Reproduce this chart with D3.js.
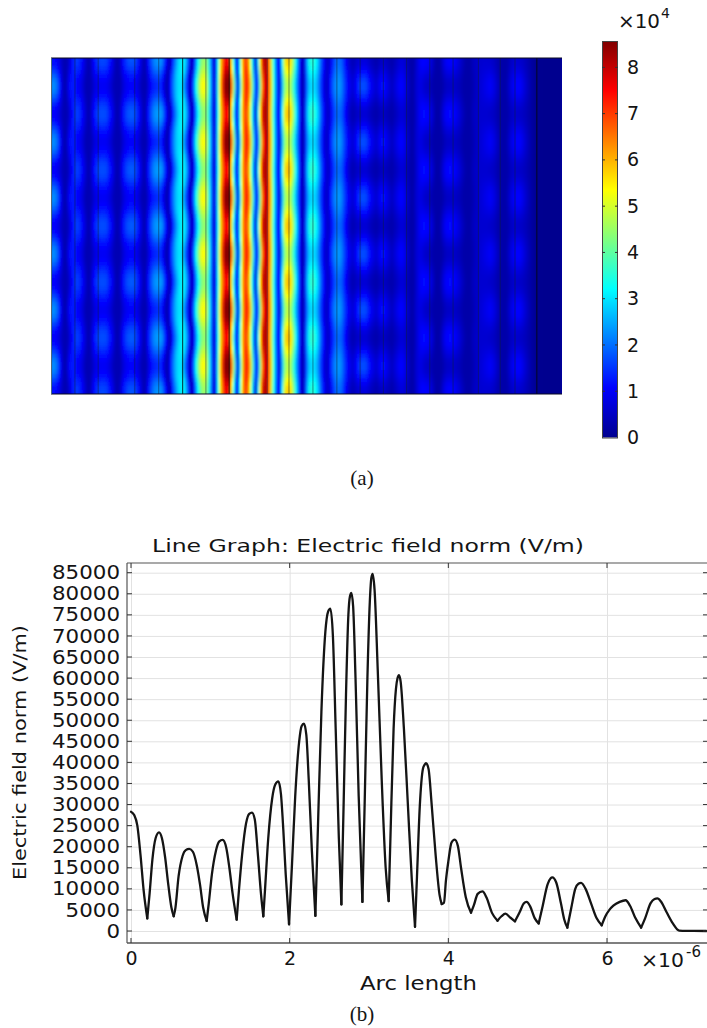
<!DOCTYPE html>
<html>
<head>
<meta charset="utf-8">
<script src="https://cdn.jsdelivr.net/npm/d3@7"></script>
<style>
  html, body { margin: 0; padding: 0; background: #fff; }
  svg { display: block; }
  text { font-family: "DejaVu Sans", sans-serif; fill: #141414; }
  .caption { font-family: "Liberation Serif", serif; font-size: 21px; }
</style>
</head>
<body>
<div id="chart"></div>
<script>
// Arc length (x 1e-6) and field norm, one arc per line
const arcLength = [
  0, 0.04, 0.08, 0.12, 0.16, 0.205,
  0.235, 0.27, 0.31, 0.353, 0.39, 0.43, 0.47, 0.51, 0.538,
  0.56, 0.6, 0.65, 0.69, 0.735, 0.78, 0.83, 0.87, 0.91, 0.954,
  0.98, 1.02, 1.07, 1.11, 1.156, 1.2, 1.24, 1.28, 1.332,
  1.36, 1.4, 1.45, 1.49, 1.525, 1.56, 1.6, 1.64, 1.668,
  1.69, 1.73, 1.78, 1.82, 1.857, 1.89, 1.92, 1.95, 1.992,
  2.03, 2.07, 2.12, 2.15, 2.18, 2.21, 2.24, 2.28, 2.324,
  2.36, 2.4, 2.45, 2.485, 2.513, 2.545, 2.58, 2.62, 2.652,
  2.68, 2.71, 2.74, 2.76, 2.778, 2.8, 2.83, 2.87, 2.917,
  2.945, 2.98, 3.01, 3.03, 3.046, 3.07, 3.11, 3.16, 3.21, 3.248,
  3.27, 3.31, 3.34, 3.36, 3.378, 3.4, 3.44, 3.49, 3.54, 3.58,
  3.605, 3.64, 3.68, 3.7, 3.718, 3.75, 3.79, 3.84, 3.89, 3.916, 3.945,
  3.97, 4.0, 4.04, 4.08, 4.12, 4.16, 4.22, 4.286,
  4.32, 4.37, 4.43, 4.48, 4.55, 4.62,
  4.67, 4.72, 4.78, 4.84, 4.9, 4.95, 4.987, 5.03, 5.09, 5.139,
  5.19, 5.25, 5.29, 5.31, 5.36, 5.42, 5.46, 5.5,
  5.55, 5.6, 5.64, 5.673, 5.73, 5.8, 5.87, 5.933,
  5.98, 6.03, 6.08, 6.16, 6.235, 6.29, 6.36, 6.43,
  6.48, 6.55, 6.6, 6.635, 6.68, 6.75, 6.83, 6.91, 7.0, 7.25
];
const fieldNorm = [
  28300, 27500, 25000, 18000, 9500, 3000,
  9000, 17000, 22000, 23400, 22000, 17500, 11000, 5500, 3500,
  5500, 13000, 17800, 19200, 19500, 18800, 15500, 11000, 5500, 2400,
  6500, 13500, 19000, 21200, 21600, 19800, 15000, 9000, 2700,
  9500, 18000, 25500, 27800, 28100, 26500, 18000, 8500, 3500,
  10000, 22000, 31500, 34800, 35500, 32500, 24000, 13500, 1600,
  16000, 32000, 45000, 48600, 49200, 46500, 36000, 19000, 3600,
  27000, 52000, 71000, 75800, 76500, 70000, 48000, 22000, 6300,
  30000, 56000, 75000, 79400, 80200, 77000, 60000, 32000, 6900,
  30000, 60000, 78000, 83800, 84700, 81000, 62000, 36000, 15000, 7100,
  22000, 48000, 57500, 60000, 60700, 59000, 48000, 30000, 12000, 1000,
  13000, 29500, 38500, 39400, 39800, 38500, 30000, 18000, 8500, 6400, 6700,
  12000, 16500, 21000, 21700, 20200, 15000, 8000, 4350,
  6000, 8800, 9400, 8000, 4300, 2450,
  3500, 4100, 3200, 2300, 4500, 6500, 6900, 5900, 3000, 1800,
  6000, 11000, 12500, 12700, 11500, 6500, 2800, 800,
  5500, 10000, 11200, 11400, 10000, 6500, 3000, 1350,
  3500, 5000, 6000, 6900, 7300, 6000, 3000, 800,
  3000, 6600, 7600, 7750, 7000, 4500, 1800, 100, 30, 0
];

const fieldTicks = [0, 5000, 10000, 15000, 20000, 25000, 30000, 35000, 40000, 45000, 50000, 55000, 60000, 65000, 70000, 75000, 80000, 85000];
const arcTicks = [0, 2, 4, 6];
const colorTicks = [0, 1, 2, 3, 4, 5, 6, 7, 8];

// Surface plot: the same arc profile, bent and brightened row by row
const rowWave = [
  0.8, 0.7, 0, -0.7, -1, -0.7, 0, 0.7,
  1, 0.7, 0, -0.7, -1, -0.7, 0, 0.7,
  1, 0.7, 0, -0.7, -1, -0.7, 0, 0.7,
  1, 0.7, 0, -0.7, -1, -0.7, 0, 0.7,
  1, 0.7, 0, -0.7, -1, -0.7, 0, 0.7,
  1, 0.7, 0, -0.7, -1, -0.7, 0, 0.7, 0.8
];
const zoneX = [0, 0.1, 0.27, 0.38, 0.55, 0.74, 0.95, 1.15, 1.34, 1.51, 1.66, 1.79, 1.97, 2.14, 2.33, 2.51, 2.77, 3.07, 3.22, 3.38, 3.55, 3.72, 3.89, 4.08, 4.25, 4.39, 4.56, 4.72, 4.89, 5.17, 5.31, 5.48, 5.67, 5.95, 6.24, 6.45, 6.66, 6.9, 7.25];
const zoneDepth = [-0.4, -0.4, -0.1, 0.22, 0.28, 0.3, 0.28, 0.3, 0.28, 0.28, 0.2, 0.05, -0.05, -0.1, -0.08, -0.08, -0.03, 0.03, 0.05, 0.12, 0.1, 0.12, 0, -0.1, -0.3, -0.5, -0.45, -0.45, -0.3, -0.1, 0.35, 0.4, 0.4, 0.2, -0.3, -0.2, -0.35, 0, 0];
const zoneGain = [0.6, 0.6, 0.58, 0.58, 0.65, 0.7, 0.68, 0.67, 0.67, 0.68, 0.75, 0.85, 0.95, 1, 1, 1.08, 0.88, 0.97, 1, 0.88, 0.85, 0.82, 0.9, 1, 1.1, 1.2, 1.6, 2.2, 1.4, 1.1, 0.67, 0.7, 0.75, 1, 1.1, 1.1, 1.1, 1, 1];
const zoneFloor = [0.35, 0.35, 0.35, 0.35, 0.35, 0.35, 0.35, 0.35, 0.35, 0.35, 0.35, 0.4, 0.4, 0.4, 0.4, 0.4, 0.4, 0.4, 0.4, 0.4, 0.4, 0.4, 0.4, 0.4, 0.35, 0.3, 0.3, 0.3, 0.3, 0.25, 0.25, 0.25, 0.25, 0.25, 0.25, 0.25, 0.25, 0, 0];
const zoneBend = [0, 0, 0.01, 0, 0, 0, 0, 0, 0, 0.01, 0.02, 0.035, 0.015, 0.008, 0, -0.008, -0.008, -0.008, -0.005, 0, 0, 0, 0.01, 0.015, 0, 0, 0, 0, 0, 0, 0, 0, 0, 0, 0, 0, 0, 0, 0];

// Layer boundaries of the structure, in the same arc length units
const layerEdges = [0.34, 0.67, 1.19, 1.53, 2.2, 3.07, 3.38, 3.72, 4.06, 4.39, 4.72, 5.05, 5.38, 5.71, 6.07, 6.38, 6.59];
const darkEdges = [1.87, 2.53, 6.9];

// Jet colour map anchors
const jetAt = [0, 0.125, 0.375, 0.625, 0.875, 1];
const jetColors = ["#00008f", "#0000ff", "#00ffff", "#ffff00", "#ff0000", "#800000"];

const W = 707, H = 1028;
const svg = d3.select("#chart").append("svg").attr("width", W).attr("height", H);
const defs = svg.append("defs");

// ---------- (a) surface plot ----------
const map = { left: 51, right: 562, top: 58, bottom: 394 };
const colorMax = 8.57;
const jet = d3.scaleLinear().domain(jetAt.map(d => d * colorMax)).range(jetColors).clamp(true);

const mapX = d3.scaleLinear().domain([0, 7.25]).range([map.left, map.right - 0.5]);
const colX = d3.scaleBand().domain(d3.range(255)).range([map.left, map.left + 510]);
const rowY = d3.scaleBand().domain(d3.range(84)).range([map.top, map.top + 336]);

const profile = d3.scaleLinear().domain(arcLength).range(fieldNorm).clamp(true);
const depth = d3.scaleLinear().domain(zoneX).range(zoneDepth);
const gain = d3.scaleLinear().domain(zoneX).range(zoneGain);
const floorV = d3.scaleLinear().domain(zoneX).range(zoneFloor);
const bend = d3.scaleLinear().domain(zoneX).range(zoneBend);
const wave = d3.interpolateBasis(rowWave);

function cellValue(col, row) {
  const u = mapX.invert(colX(col) + 1);
  const w = wave((row + 0.5) / 84);
  const v = profile(u - bend(u) * w) * gain(u) * (1 + depth(u) * w) / 1e4;
  return Math.max(v, floorV(u));
}

defs.append("clipPath").attr("id", "mapClip").append("rect")
  .attr("x", map.left).attr("y", map.top)
  .attr("width", map.right - map.left).attr("height", map.bottom - map.top);
defs.append("filter").attr("id", "soft")
  .attr("x", "-2%").attr("y", "-2%").attr("width", "104%").attr("height", "104%")
  .append("feGaussianBlur").attr("stdDeviation", 0.9);

const mapClip = svg.append("g").attr("clip-path", "url(#mapClip)");
mapClip.append("rect")
  .attr("x", map.left).attr("y", map.top)
  .attr("width", map.right - map.left).attr("height", map.bottom - map.top)
  .attr("fill", jet(0.3));
const cells = mapClip.append("g").attr("filter", "url(#soft)").attr("shape-rendering", "crispEdges");
cells.selectAll("g")
  .data(colX.domain())
  .join("g")
  .attr("transform", d => `translate(${colX(d)},0)`)
  .selectAll("rect")
  .data(col => rowY.domain().map(row => ({ col, row })))
  .join("rect")
  .attr("y", d => rowY(d.row))
  .attr("width", colX.bandwidth() + 0.5)
  .attr("height", rowY.bandwidth() + 0.5)
  .attr("fill", d => jet(cellValue(d.col, d.row)));

// layer lines
svg.append("g").selectAll("line")
  .data(layerEdges)
  .join("line")
  .attr("x1", d => mapX(d)).attr("x2", d => mapX(d))
  .attr("y1", map.top).attr("y2", map.bottom)
  .attr("stroke", "#10203a").attr("stroke-opacity", 0.5).attr("stroke-width", 1);
svg.append("g").selectAll("line")
  .data(darkEdges)
  .join("line")
  .attr("x1", d => mapX(d)).attr("x2", d => mapX(d))
  .attr("y1", map.top).attr("y2", map.bottom)
  .attr("stroke", "#05080f").attr("stroke-opacity", 0.85).attr("stroke-width", 1);

// frame of the surface plot
svg.append("line").attr("x1", map.left).attr("x2", map.right).attr("y1", map.top).attr("y2", map.top)
  .attr("stroke", "#0a0a20").attr("stroke-width", 1);
svg.append("line").attr("x1", map.left).attr("x2", map.right).attr("y1", map.bottom).attr("y2", map.bottom)
  .attr("stroke", "#0a0a20").attr("stroke-width", 1);
svg.append("line").attr("x1", map.left + 0.5).attr("x2", map.left + 0.5).attr("y1", map.top).attr("y2", map.bottom)
  .attr("stroke", "#4a6a80").attr("stroke-width", 1);

// colour bar
const bar = { left: 602, right: 618, top: 41, bottom: 437.5 };
const barY = d3.scaleLinear().domain([0, colorMax]).range([bar.bottom, bar.top]);
const grad = defs.append("linearGradient").attr("id", "jetGrad")
  .attr("x1", 0).attr("x2", 0).attr("y1", 1).attr("y2", 0);
grad.selectAll("stop")
  .data(jetAt)
  .join("stop")
  .attr("offset", d => d)
  .attr("stop-color", (d, i) => jetColors[i]);
svg.append("rect")
  .attr("x", bar.left).attr("y", bar.top)
  .attr("width", bar.right - bar.left).attr("height", bar.bottom - bar.top)
  .attr("fill", "url(#jetGrad)");
svg.append("rect")
  .attr("x", bar.left + 0.5).attr("y", bar.top + 0.5)
  .attr("width", bar.right - bar.left - 1).attr("height", bar.bottom - bar.top)
  .attr("fill", "none").attr("stroke", "#444").attr("stroke-width", 1);

const barAxis = svg.append("g")
  .attr("transform", `translate(${bar.right},0)`)
  .call(d3.axisRight(barY).tickValues(colorTicks).tickFormat(d3.format("d")).tickSize(0).tickPadding(9));
barAxis.select(".domain").remove();
barAxis.selectAll("text").attr("font-size", 19).attr("fill", "#141414").attr("font-family", "DejaVu Sans");

svg.append("g").selectAll("line")
  .data(colorTicks.filter(d => d > 0))
  .join("line")
  .attr("x1", bar.left).attr("x2", bar.left + 3)
  .attr("y1", d => barY(d)).attr("y2", d => barY(d))
  .attr("stroke", "#333");
svg.append("g").selectAll("line")
  .data(colorTicks.filter(d => d > 0))
  .join("line")
  .attr("x1", bar.right - 3).attr("x2", bar.right)
  .attr("y1", d => barY(d)).attr("y2", d => barY(d))
  .attr("stroke", "#333");

svg.append("text").attr("x", 618).attr("y", 28).attr("font-size", 20)
  .attr("textLength", 42).attr("lengthAdjust", "spacingAndGlyphs").text("×10");
svg.append("text").attr("x", 661).attr("y", 18).attr("font-size", 14).attr("fill", "#444").text("4");

svg.append("text").attr("class", "caption").attr("x", 362).attr("y", 485).attr("text-anchor", "middle").text("(a)");

// ---------- (b) line graph ----------
const plot = { left: 127, right: 707, top: 563, bottom: 943 };
const x = d3.scaleLinear().domain([0, 6]).range([131, 607]);
const y = d3.scaleLinear().domain([0, 85000]).range([931, 572.7]);

// grid
const gridY = svg.append("g").attr("transform", `translate(${plot.left},0)`)
  .call(d3.axisLeft(y).tickValues(fieldTicks).tickSize(-(plot.right - plot.left)).tickFormat(""));
gridY.select(".domain").remove();
gridY.selectAll("line").attr("stroke", "#e2e2e2");
const gridX = svg.append("g").attr("transform", `translate(0,${plot.bottom})`)
  .call(d3.axisBottom(x).tickValues(arcTicks).tickSize(-(plot.bottom - plot.top)).tickFormat(""));
gridX.select(".domain").remove();
gridX.selectAll("line").attr("stroke", "#e2e2e2");

// field curve: each arc is drawn on its own so the minima stay sharp cusps
const points = fieldNorm.map((d, i) => [arcLength[i], d]);
const minima = d3.range(1, points.length - 1).filter(i => fieldNorm[i] < fieldNorm[i - 1] && fieldNorm[i] < fieldNorm[i + 1]);
const cuts = [0, ...minima, points.length - 1];
const line = d3.line()
  .x(d => x(d[0]))
  .y(d => y(d[1]))
  .curve(d3.curveMonotoneX);
svg.append("g").selectAll("path")
  .data(d3.pairs(cuts))
  .join("path")
  .attr("fill", "none")
  .attr("stroke", "#141414")
  .attr("stroke-width", 2.3)
  .attr("stroke-linecap", "round")
  .attr("d", ([a, b]) => line(points.slice(a, b + 1)));

// axes
const axisY = svg.append("g").attr("transform", `translate(${plot.left},0)`)
  .call(d3.axisLeft(y).tickValues(fieldTicks).tickFormat(d3.format("d")).tickSize(0).tickPadding(7));
axisY.select(".domain").remove();
axisY.selectAll("text")
  .attr("font-size", 19).attr("fill", "#141414").attr("font-family", "DejaVu Sans")
  .attr("textLength", d => String(d).length * 13.6)
  .attr("lengthAdjust", "spacingAndGlyphs");

const axisX = svg.append("g").attr("transform", `translate(0,${plot.bottom})`)
  .call(d3.axisBottom(x).tickValues(arcTicks).tickFormat(d3.format("d")).tickSize(0).tickPadding(9));
axisX.select(".domain").remove();
axisX.selectAll("text").attr("font-size", 19).attr("fill", "#141414").attr("font-family", "DejaVu Sans");

svg.append("line").attr("x1", plot.left).attr("x2", plot.right).attr("y1", plot.top).attr("y2", plot.top)
  .attr("stroke", "#555").attr("stroke-width", 1.2);
svg.append("line").attr("x1", plot.left).attr("x2", plot.right).attr("y1", plot.bottom).attr("y2", plot.bottom)
  .attr("stroke", "#555").attr("stroke-width", 1.4);
svg.append("line").attr("x1", plot.left).attr("x2", plot.left).attr("y1", plot.top).attr("y2", plot.bottom)
  .attr("stroke", "#555").attr("stroke-width", 1.2);

// inner ticks on all four sides
const innerTicks = svg.append("g").attr("stroke", "#333");
innerTicks.selectAll(".tl").data(fieldTicks).join("line").attr("class", "tl")
  .attr("x1", plot.left).attr("x2", plot.left + 5).attr("y1", d => y(d)).attr("y2", d => y(d));
innerTicks.selectAll(".tr").data(fieldTicks).join("line").attr("class", "tr")
  .attr("x1", plot.right - 4).attr("x2", plot.right).attr("y1", d => y(d)).attr("y2", d => y(d));
innerTicks.selectAll(".tt").data(arcTicks).join("line").attr("class", "tt")
  .attr("x1", d => x(d)).attr("x2", d => x(d)).attr("y1", plot.top).attr("y2", plot.top + 5);
innerTicks.selectAll(".tb").data(arcTicks).join("line").attr("class", "tb")
  .attr("x1", d => x(d)).attr("x2", d => x(d)).attr("y1", plot.bottom - 5).attr("y2", plot.bottom);

// labels
svg.append("text").attr("x", 152).attr("y", 552).attr("font-size", 18.5)
  .attr("textLength", 432).attr("lengthAdjust", "spacingAndGlyphs")
  .text("Line Graph: Electric field norm (V/m)");
svg.append("text").attr("transform", "translate(26,880) rotate(-90)").attr("font-size", 18.5)
  .attr("textLength", 255).attr("lengthAdjust", "spacingAndGlyphs")
  .text("Electric field norm (V/m)");
svg.append("text").attr("x", 360).attr("y", 990).attr("font-size", 19)
  .attr("textLength", 117).attr("lengthAdjust", "spacingAndGlyphs")
  .text("Arc length");
svg.append("text").attr("x", 641).attr("y", 967).attr("font-size", 20)
  .attr("textLength", 43).attr("lengthAdjust", "spacingAndGlyphs").text("×10");
svg.append("text").attr("x", 686).attr("y", 957).attr("font-size", 15).attr("fill", "#444").text("-6");

svg.append("text").attr("class", "caption").attr("x", 362).attr("y", 1021).attr("text-anchor", "middle").text("(b)");
</script>
</body>
</html>
